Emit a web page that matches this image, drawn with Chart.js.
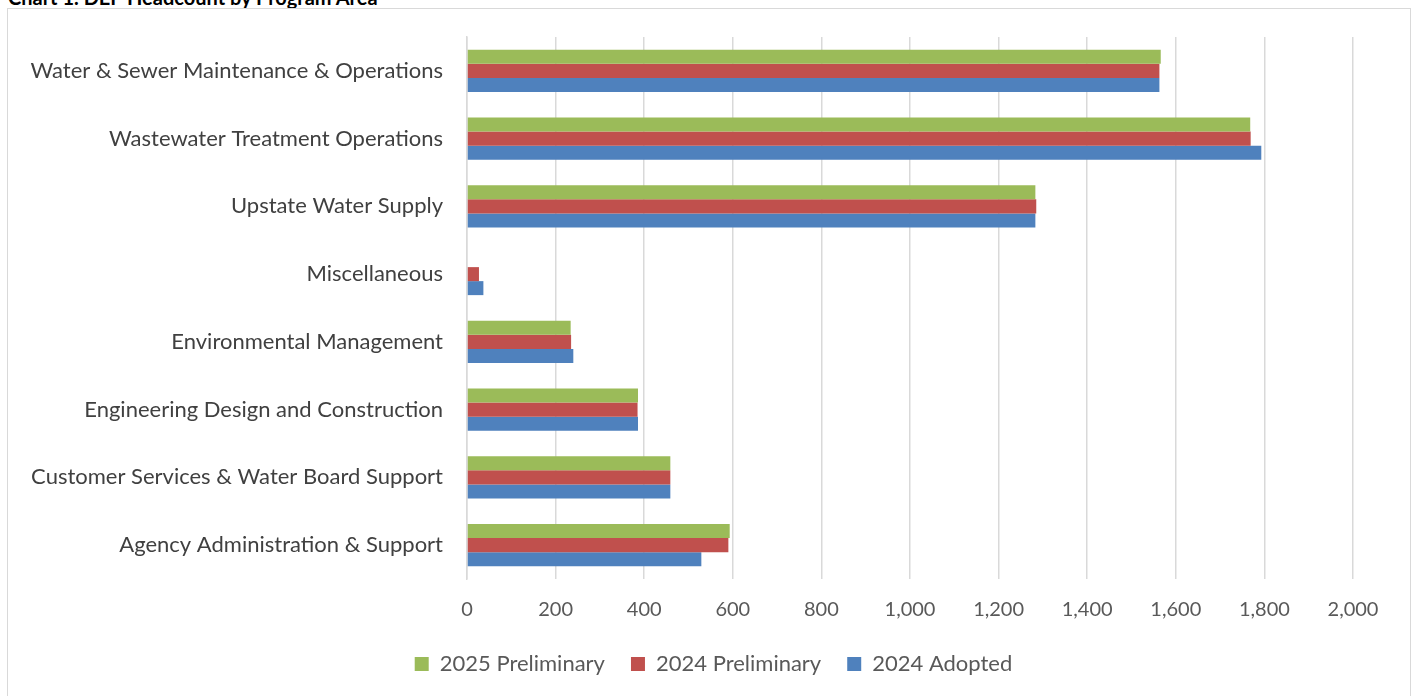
<!DOCTYPE html>
<html>
<head>
<meta charset="utf-8">
<script src="https://cdn.jsdelivr.net/npm/chart.js@4"></script>
<style>
  body { margin: 0; background: #fff; overflow: hidden; }
  #title { position: absolute; left: 8px; top: -15px; font: bold 20px Lato, sans-serif; color: #000; white-space: nowrap; }
  #frame { position: absolute; left: 7px; top: 8px; width: 1402px; height: 700px; border: 1px solid #d9d9d9; }
  #wrap { position: absolute; left: 0; top: 0; width: 1416px; height: 696px; }
</style>
</head>
<body>
<div id="title">Chart 1. DEP Headcount by Program Area</div>
<div id="frame"></div>
<div id="wrap"><canvas id="myChart"></canvas></div>
<script>
const programs = [
    'Water & Sewer Maintenance & Operations',
    'Wastewater Treatment Operations',
    'Upstate Water Supply',
    'Miscellaneous',
    'Environmental Management',
    'Engineering Design and Construction',
    'Customer Services & Water Board Support',
    'Agency Administration & Support'
];
const prelim2025 = [1566, 1768, 1283, 0, 234, 386, 459, 593];
const prelim2024 = [1563, 1769, 1285, 27, 235, 385, 459, 590];
const adopted2024 = [1563, 1793, 1283, 37, 240, 386, 459, 529];
const xTicks = [0, 200, 400, 600, 800, 1000, 1200, 1400, 1600, 1800, 2000];

const ctx = document.getElementById('myChart');

// legend: wide gaps between items but a short box, centred on the page
const legendTweak = {
    id: 'legendTweak',
    afterInit(chart) {
        const fit = chart.legend.fit;
        chart.legend.fit = function () {
            fit.call(this);
            this.height -= 14;
        };
    },
    afterLayout(chart) {
        chart.legend.left += 54;
        chart.legend.top -= 14;
    }
};

new Chart(ctx, {
    type: 'bar',
    data: {
        labels: programs,
        datasets: [{
            label: '2025 Preliminary',
            data: prelim2025,
            backgroundColor: '#9BBB59'
        }, {
            label: '2024 Preliminary',
            data: prelim2024,
            backgroundColor: '#C0504D'
        }, {
            label: '2024 Adopted',
            data: adopted2024,
            backgroundColor: '#4F81BD'
        }]
    },
    options: {
        indexAxis: 'y',
        responsive: true,
        maintainAspectRatio: false,
        animation: false,
        datasets: {
            bar: { categoryPercentage: 0.62, barPercentage: 1.0 }
        },
        layout: {
            padding: { top: 37, right: 63, bottom: 11, left: 20 }
        },
        scales: {
            x: {
                min: 0,
                max: 2000,
                afterBuildTicks: (axis) => { axis.ticks = xTicks.map(v => ({ value: v })); },
                grid: { color: '#d9d9d9', lineWidth: 1.5, drawTicks: false },
                border: { display: false },
                ticks: {
                    padding: 19,
                    color: '#595959',
                    font: { family: 'Lato', size: 20 },
                    callback: (v) => v.toLocaleString('en-US')
                }
            },
            y: {
                grid: { display: false },
                border: { color: '#d9d9d9', width: 1.5 },
                afterFit: (axis) => { axis.width = 447; },
                ticks: {
                    padding: 16,
                    color: '#404040',
                    font: { family: 'Lato', size: 22 }
                }
            }
        },
        plugins: {
            tooltip: { enabled: false },
            legend: {
                position: 'bottom',
                labels: {
                    boxWidth: 14,
                    boxHeight: 14,
                    padding: 26,
                    color: '#595959',
                    font: { family: 'Lato', size: 22 }
                }
            }
        }
    },
    plugins: [legendTweak]
});
</script>
</body>
</html>
